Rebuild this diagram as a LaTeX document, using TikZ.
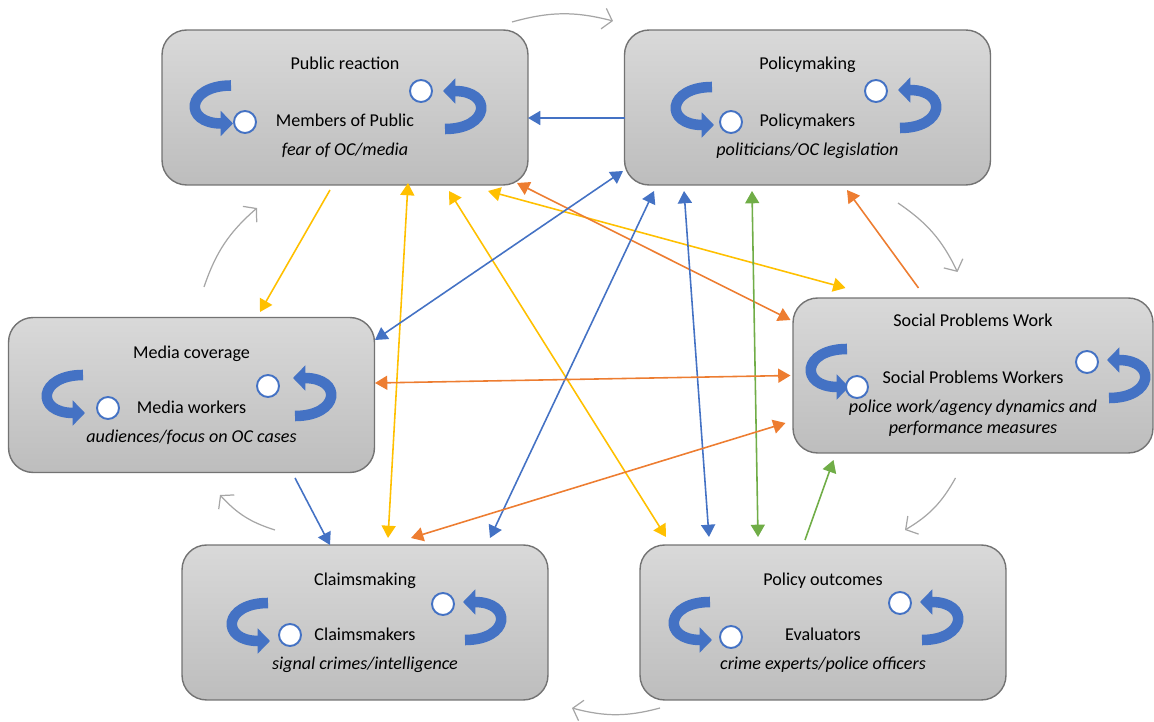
\documentclass[tikz,border=0pt]{standalone}
\usepackage{fontspec}
\setmainfont{Carlito}
\usetikzlibrary{arrows.meta,calc}

\definecolor{cblue}{HTML}{4472C4}
\definecolor{cora}{HTML}{ED7D31}
\definecolor{cyel}{HTML}{FFC000}
\definecolor{cgrn}{HTML}{70AD47}
\definecolor{cgray}{HTML}{A6A6A6}
\definecolor{boxtop}{HTML}{D9D9D9}
\definecolor{boxbot}{HTML}{BDBDBD}

\tikzset{
  box/.style={draw=black!55, line width=0.8pt, rounded corners=14pt, top color=boxtop, bottom color=boxbot,
    minimum width=7.32cm, minimum height=3.1cm, align=center, font=\fontsize{10.3}{16.4}\selectfont},
  ring/.style={circle, draw=cblue, fill=white, line width=1.1pt, minimum size=0.44cm, inner sep=0pt},
  oneway/.style={line width=0.9pt, -{Triangle[length=7pt,width=8pt]}},
  twoway/.style={line width=0.9pt, {Triangle[length=7pt,width=8pt]}-{Triangle[length=7pt,width=8pt]}},
  turn/.style={cgray, line width=0.7pt, -{Straight Barb[length=5pt,width=12pt]}, bend left=15},
  loopline/.style={cblue, line width=6pt, -{Triangle[length=7pt,width=14pt]}},
  lloop/.pic={\draw[loopline] (0,0) .. controls (-45,0) and (-48,38) .. (2,38);},
  rloop/.pic={\draw[loopline] (0,0) .. controls (45,0) and (48,-38) .. (-2,-38);},
}

\begin{document}
\begin{tikzpicture}[x=0.02cm, y=-0.02cm]
  \useasboundingbox (0,0) rectangle (1154,722);

  % boxes
  \node[box] (pub)  at (345,107.5)  {Public reaction\\[16pt] Members of Public\\ \textit{fear of OC/media}};
  \node[box] (pol)  at (807.5,107.5) {Policymaking\\[16pt] Policymakers\\ \textit{politicians/OC legislation}};
  \node[box] (med)  at (191.5,395)  {Media coverage\\[15pt] Media workers\\ \textit{audiences/focus on OC cases}};
  \node[box, minimum width=7.2cm] (spw) at (973,375.5)
    {Social Problems Work\\[16pt] Social Problems Workers\\ \textit{police work/agency dynamics and}\\[-4.5pt] \textit{performance measures}};
  \node[box] (clm)  at (365,622.5)  {Claimsmaking\\[15pt] Claimsmakers\\ \textit{signal crimes/intelligence}};
  \node[box] (pout) at (823,622.5)  {Policy outcomes\\[15pt] Evaluators\\ \textit{crime experts/police officers}};

  % feedback loops
  \foreach \lx/\ly/\rx/\ry in {231/85.5/445/129, 712/87/900/128, 83/375/295/416,
      847/349/1109/398, 268/603/465/640, 710/602/922/640}
  {	\pic at (\lx,\ly) {lloop};
    \pic at (\rx,\ry) {rloop};
  }
  \node[ring] (pubL) at (245,122) {};  \node[ring] (pubR) at (421,91) {};
  \node[ring] (polL) at (731,122) {};  \node[ring] (polR) at (876,91) {};
  \node[ring] (medL) at (108,408) {};  \node[ring] (medR) at (268,386) {};
  \node[ring] (spwL) at (857,387) {};  \node[ring] (spwR) at (1087,362) {};
  \node[ring] (clmL) at (290,635) {};  \node[ring] (clmR) at (443,604) {};
  \node[ring] (poutL) at (731,637) {}; \node[ring] (poutR) at (900,603) {};

  % cycle round the boxes
  \foreach \u/\ux/\uy/\v/\vx/\vy in {pub/167/-85.5/pol/-194.5/-86.5, pol/90.5/95.5/spw/-15.5/-103.5,
      spw/-17.5/102.5/pout/82/-92.5, pout/-163/85.5/clm/207/85.5,
      clm/-90/-92.5/med/28.5/100, med/12.5/-108/pub/-88/100.5}
  {	\draw[turn] ($(\u)+(\ux,\uy)$) to ($(\v)+(\vx,\vy)$);
  }

  % one-way links
  \foreach \u/\ux/\uy/\v/\vx/\vy/\c in {pol/-182.5/10.5/pub/183/10.5/cblue,
      pub/-15/82.5/med/68.5/-83/cyel, spw/-54.5/-87.5/pol/39.5/82.5/cora,
      med/103.5/83/clm/-35/-77.5/cblue, pout/-18/-82.5/spw/-139.5/84.5/cgrn}
  {	\draw[oneway,\c] ($(\u)+(\ux,\uy)$) -- ($(\v)+(\vx,\vy)$);
  }

  % two-way links
  \foreach \u/\ux/\uy/\v/\vx/\vy/\c in {clm/23/-84.5/pub/63/75.5/cyel,
      pout/-157/-85.5/pub/104/83.5/cyel, pub/143/83.5/spw/-127.5/-87.5/cyel,
      pub/172/75.5/spw/-182.5/-55.5/cora, pol/-184.5/63.5/med/183.5/-55/cblue,
      pol/-153.5/83.5/clm/125/-84.5/cblue, pol/-123.5/83.5/pout/-114/-85.5/cblue,
      pol/-55.5/83.5/pout/-65/-85.5/cgrn, med/183.5/-12/spw/-182.5/0/cora,
      spw/-187.5/47.5/clm/46/-84.5/cora}
  {	\draw[twoway,\c] ($(\u)+(\ux,\uy)$) -- ($(\v)+(\vx,\vy)$);
  }
\end{tikzpicture}
\end{document}
